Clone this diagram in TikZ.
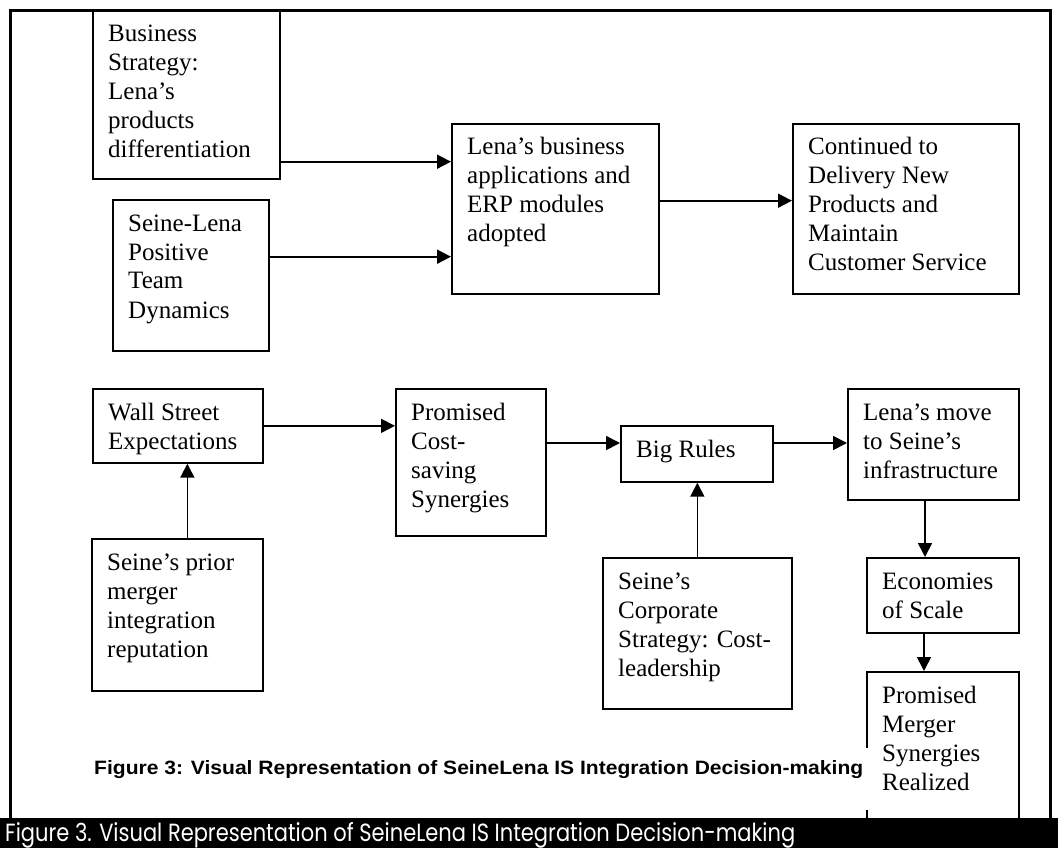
\documentclass[tikz,border=0pt]{standalone}
\usepackage{fontspec}
\setmainfont{Liberation Serif}
\newfontfamily\capsans{Liberation Sans}
\newfontfamily\futfont{Poppins}
\usetikzlibrary{arrows.meta,calc}
\newcommand\mybox[6]{%
  \node[boxst,minimum width={#4-#2},minimum height={#5-#3}] (#1) at (#2,#3) {};
  \node[txtst] (#1t) at ({#2+16},{#3+32}) {\begin{tabular}[t]{@{}l@{}}#6\end{tabular}};}
\begin{document}
\begin{tikzpicture}[x=1pt,y=-1pt,
  boxst/.style={draw=black,line width=1.7pt,inner sep=0pt,anchor=north west},
  txtst/.style={inner sep=0pt,anchor=base west,font=\fontsize{25pt}{29pt}\selectfont},
  arr/.style={line width=1.7pt,-{Triangle[length=14pt,width=14pt]}}]
\useasboundingbox (0,0) rectangle (1058,848);
\fill[white] (0,0) rectangle (1058,848);
% top row
\mybox{BS}{92}{10}{279}{178}{Business\\Strategy:\\Lena’s\\products\\differentiation}
\mybox{SL}{112}{199}{268}{350}{Seine-Lena\\Positive\\Team\\Dynamics}
\mybox{LB}{451}{123}{658}{293}{Lena’s business\\applications and\\ERP modules\\adopted}
\mybox{CD}{792}{123}{1018}{293}{Continued to\\Delivery New\\Products and\\Maintain\\Customer Service}
% lower rows
\mybox{WS}{92}{388}{262}{462}{Wall Street\\Expectations}
\mybox{PC}{395}{388}{545}{535}{Promised\\Cost-\\saving\\Synergies}
\mybox{BR}{620}{425}{772}{481}{Big Rules}
\mybox{LM}{847}{388}{1018}{499}{Lena’s move\\to Seine’s\\infrastructure}
\mybox{SP}{91}{538}{262}{690}{Seine’s prior\\merger\\integration\\reputation}
\mybox{SC}{602}{557}{791}{708}{Seine’s\\Corporate\\Strategy: Cost-\\leadership}
\mybox{EC}{866}{557}{1018}{632}{Economies\\of Scale}
\mybox{PM}{866}{671}{1018}{830}{Promised\\Merger\\Synergies\\Realized}
% connectors
\draw[arr] ([yshift=18pt]BS.south east) -- ([yshift=18pt]BS.south east -| LB.west);
\draw[arr] ([yshift=95pt]SL.south east) -- ([yshift=95pt]SL.south east -| LB.west);
\draw[arr] ([yshift=94pt]LB.south east) -- ([yshift=94pt]LB.south east -| CD.west);
\draw[arr] (WS.east) -- (WS.east -| PC.west);
\draw[arr] ([xshift=10pt]SP.north) -- ([xshift=10pt]SP.north |- WS.south);
\draw[arr] ([yshift=-18pt]BR.north west -| PC.east) -- ([yshift=-18pt]BR.north west);
\draw[arr] (SC.north) -- (SC.north |- BR.south);
\draw[arr] ([yshift=-18pt]BR.north east) -- ([yshift=-18pt]BR.north east -| LM.west);
\draw[arr] ([xshift=78pt]LM.south west) -- ([xshift=78pt]LM.south west |- EC.north);
\draw[arr] ([xshift=58pt]EC.south west) -- ([xshift=58pt]EC.south west |- PM.north);
% inner caption
\node[fill=white,inner xsep=5pt,inner ysep=0pt,text height=26pt,text depth=36pt,anchor=base west,font=\capsans\bfseries] (fig) at (89,774) {\resizebox{769pt}{14pt}{Figure 3: Visual Representation of SeineLena IS Integration Decision-making}};
% bottom bar
\node[fill=black,inner sep=0pt,minimum width=1058pt,minimum height=30pt,anchor=north west] (bar) at (0,818) {};
\node[inner sep=0pt,anchor=base west,text=white,font=\futfont] (bartxt) at (5,841) {\resizebox{790pt}{19pt}{Figure 3. Visual Representation of SeineLena IS Integration Decision-making}};
% frame
\draw[line width=3pt] (10.5,818) -- (10.5,10.5) -- (1050,10.5) -- (1050,818);
\end{tikzpicture}
\end{document}
